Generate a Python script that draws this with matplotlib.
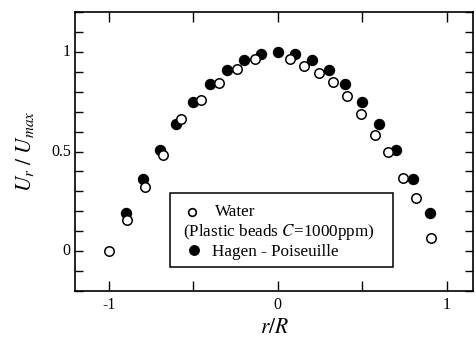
import matplotlib
matplotlib.use("Agg")
import matplotlib.pyplot as plt
from matplotlib.patches import Rectangle
from matplotlib.ticker import MultipleLocator, FixedFormatter

# Velocity profile: plastic-bead suspension in water vs. Hagen-Poiseuille
water_r = [-1.0, -0.89, -0.787, -0.68, -0.57, -0.455, -0.35, -0.24, -0.136,
           0.07, 0.155, 0.243, 0.325, 0.408, 0.49, 0.574, 0.65, 0.74, 0.82, 0.905]
water_u = [0.0, 0.156, 0.32, 0.48, 0.663, 0.76, 0.845, 0.915, 0.965,
           0.965, 0.93, 0.895, 0.85, 0.78, 0.69, 0.583, 0.495, 0.367, 0.266, 0.065]

hp_r = [-0.9, -0.8, -0.7, -0.6, -0.5, -0.4, -0.3, -0.2, -0.1, 0.0,
        0.1, 0.2, 0.3, 0.4, 0.5, 0.6, 0.7, 0.8, 0.9]
hp_u = [0.19, 0.36, 0.51, 0.64, 0.75, 0.84, 0.91, 0.96, 0.99, 1.0,
        0.99, 0.96, 0.91, 0.84, 0.75, 0.64, 0.51, 0.36, 0.19]

x_ticks = [-1, 0, 1]
x_tick_labels = ["-1", "0", "1"]
y_ticks = [0, 0.5, 1]
y_tick_labels = ["0", "0.5", "1"]

plt.rcParams["font.family"] = ["Liberation Serif", "DejaVu Serif"]
plt.rcParams["mathtext.fontset"] = "stix"

fig = plt.figure(figsize=(4.76, 3.38), dpi=100)
ax = fig.add_axes([75 / 476, 47 / 338, 398 / 476, 279 / 338])

ax.plot(hp_r, hp_u, "o", color="black", markersize=7.2, zorder=2)
ax.plot(water_r, water_u, "o", markerfacecolor="white", markeredgecolor="black",
        markersize=6.8, markeredgewidth=1.1, zorder=3)

ax.set_xlim(-1.2, 1.155)
ax.set_ylim(-0.2, 1.2)

for s in ax.spines.values():
    s.set_linewidth(1.2)

ax.xaxis.set_major_locator(MultipleLocator(0.5))
ax.xaxis.set_major_formatter(FixedFormatter([]))
ax.tick_params(axis="x", which="major", direction="in", length=7, width=1,
               top=True, bottom=True, labelbottom=False)
ax.yaxis.set_major_locator(MultipleLocator(0.1))
ax.tick_params(axis="y", which="major", direction="in", length=6, width=1,
               left=True, right=True, labelleft=False)

# tick labels only at selected positions
for xv, lab in zip(x_ticks, x_tick_labels):
    ax.annotate(lab, xy=(xv, 0), xycoords=("data", "axes fraction"),
                xytext=(0, -4), textcoords="offset points",
                ha="center", va="top", fontsize=11.5)
for yv, lab in zip(y_ticks, y_tick_labels):
    ax.annotate(lab, xy=(0, yv), xycoords=("axes fraction", "data"),
                xytext=(-3, 0), textcoords="offset points",
                ha="right", va="center", fontsize=11.5)

ax.text(-0.126, 0.5, r"$U_r\ /\ U_{max}$", transform=ax.transAxes,
        rotation=90, ha="center", va="center", fontsize=15.5)
ax.text(0.5, -0.133, r"$r/R$", transform=ax.transAxes,
        ha="center", va="center", fontsize=15.5)

# legend box
ax.add_patch(Rectangle((0.2387, 0.086), 0.799 - 0.2387, 0.3513 - 0.086,
                       transform=ax.transAxes, facecolor="white",
                       edgecolor="black", linewidth=1.1, zorder=4))
ax.plot([0.294], [0.2835], "o", transform=ax.transAxes, markerfacecolor="white",
        markeredgecolor="black", markersize=5.5, markeredgewidth=1.2, zorder=5)
ax.plot([0.299], [0.147], "o", transform=ax.transAxes, color="black",
        markersize=6.8, zorder=5)
leg_fs = 12.3
ax.text(0.352, 0.268, "Water", transform=ax.transAxes, fontsize=leg_fs,
        ha="left", va="baseline", zorder=5)
ax.text(0.2714, 0.198, "(Plastic beads $C$=1000ppm)", transform=ax.transAxes,
        fontsize=leg_fs, ha="left", va="baseline", zorder=5)
ax.text(0.344, 0.127, "Hagen - Poiseuille", transform=ax.transAxes,
        fontsize=leg_fs, ha="left", va="baseline", zorder=5)

fig.savefig("out.png", dpi=100)
